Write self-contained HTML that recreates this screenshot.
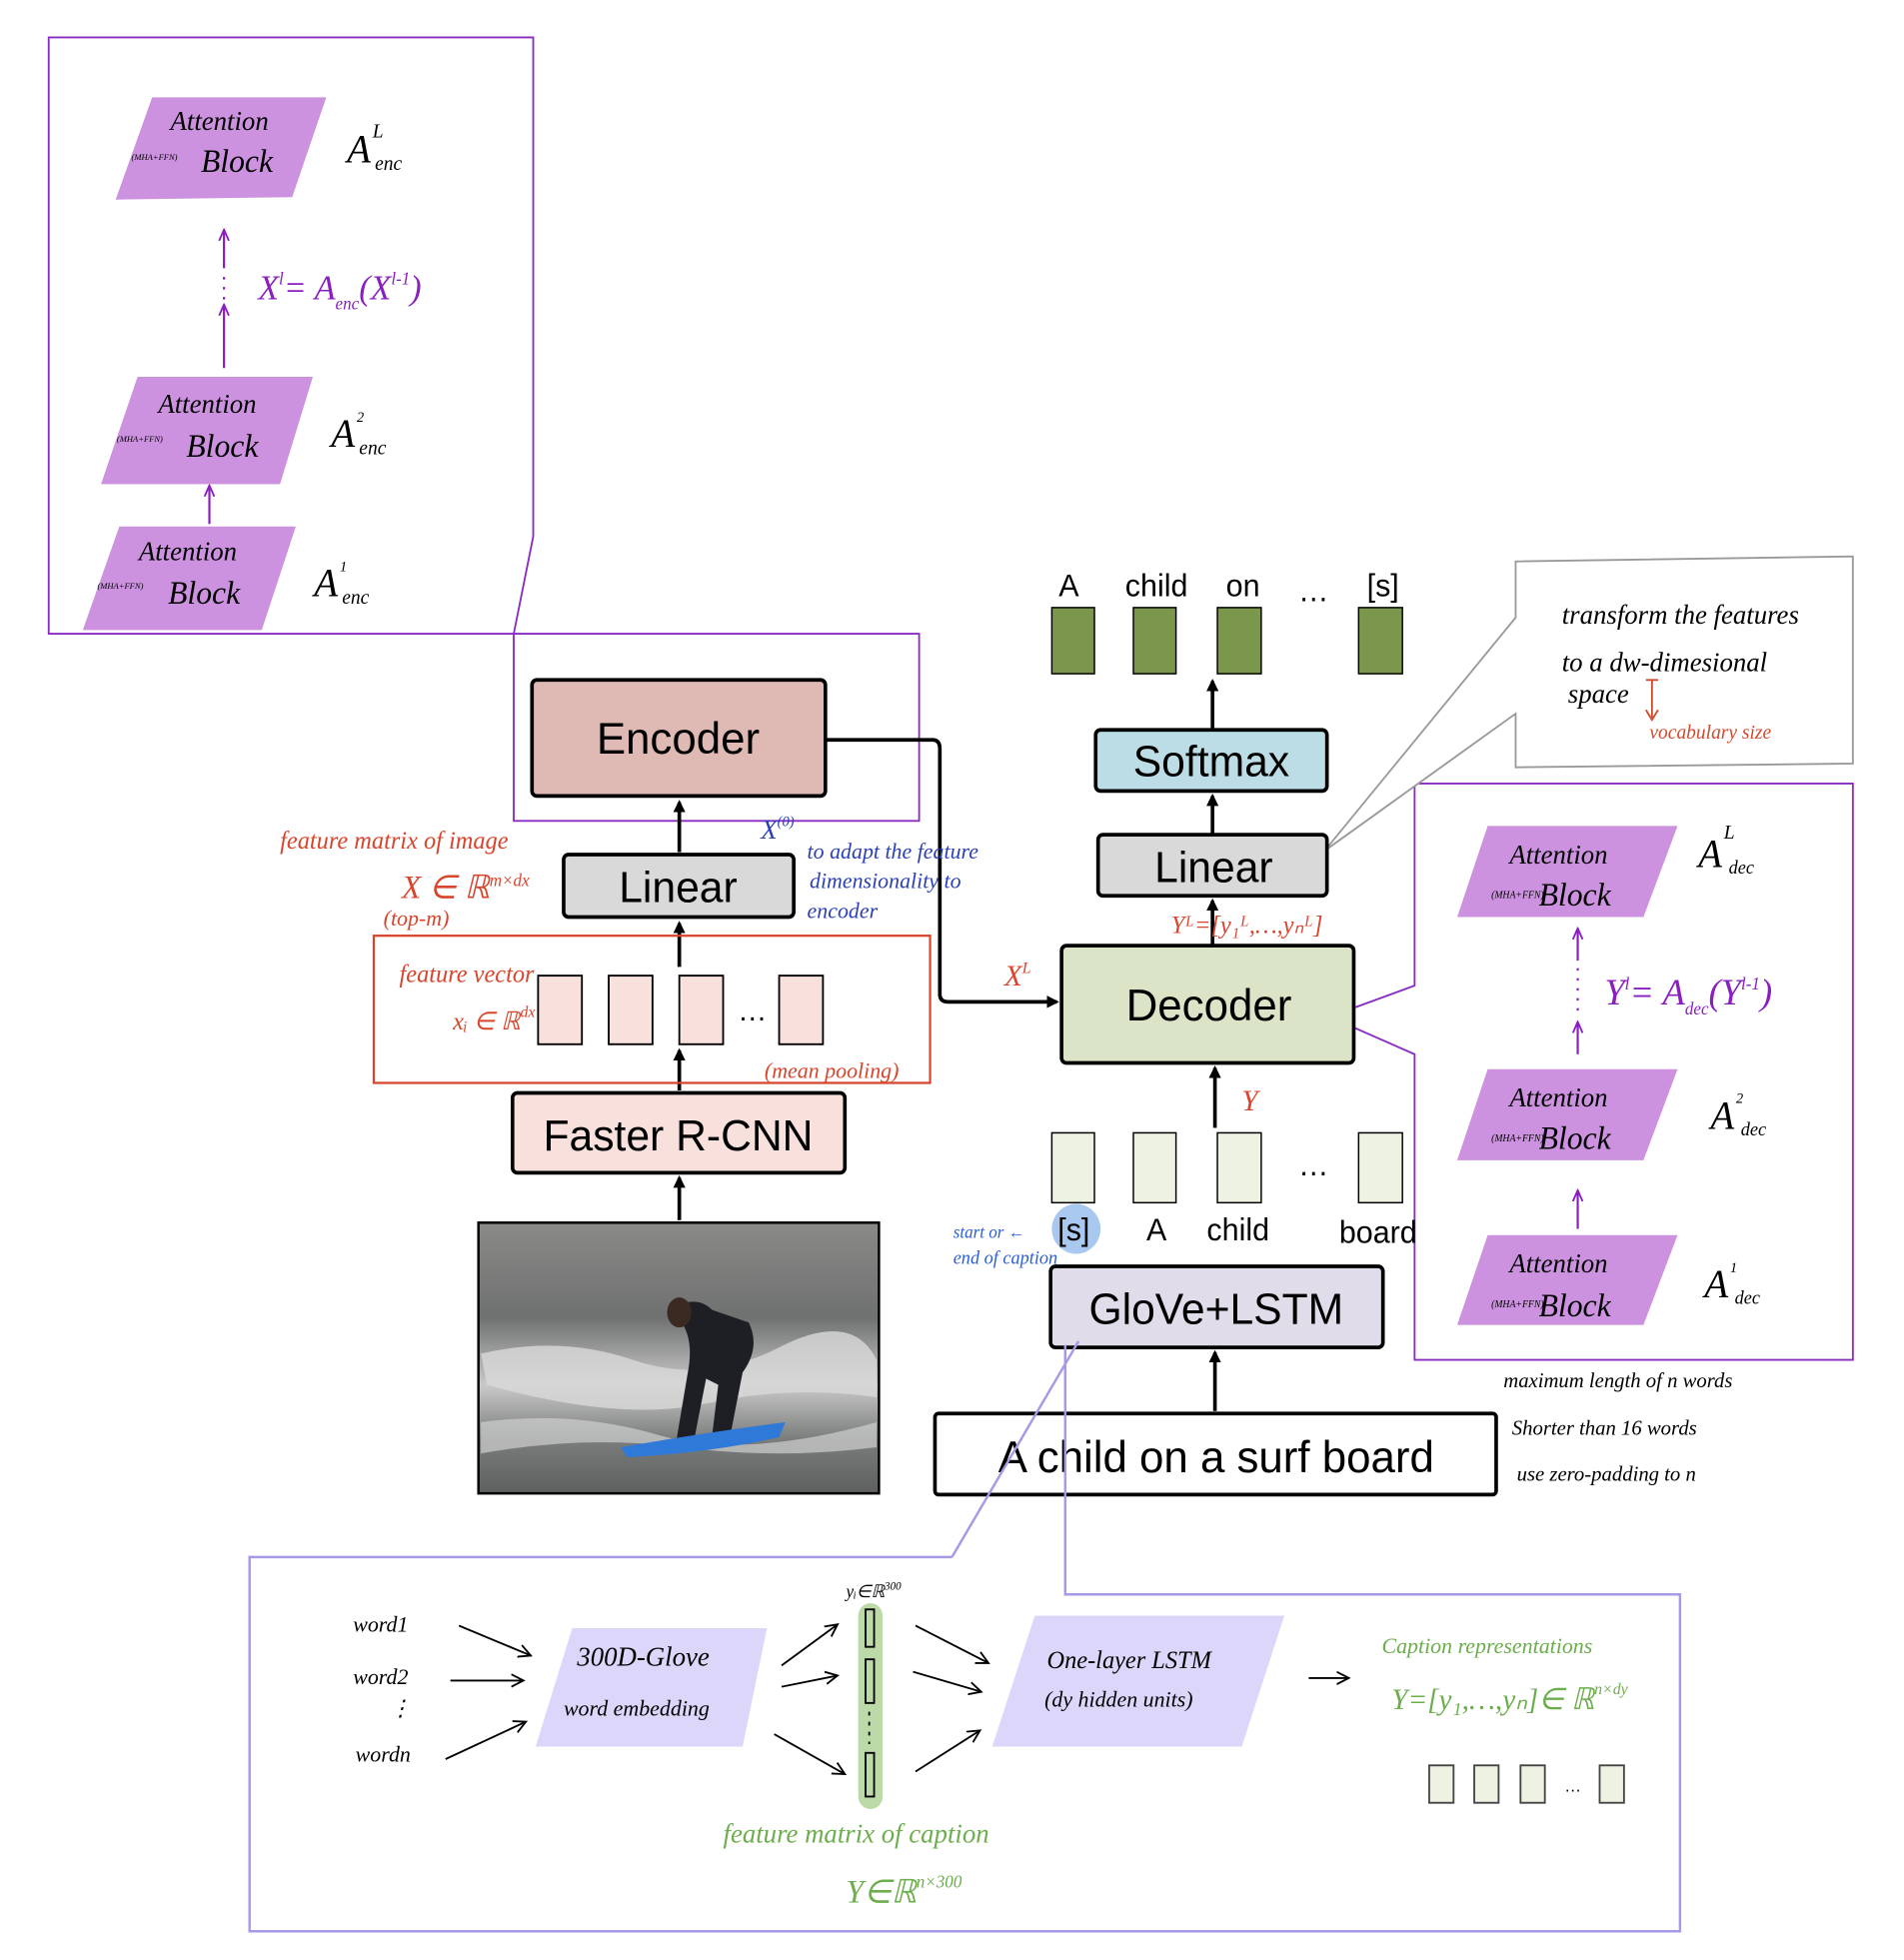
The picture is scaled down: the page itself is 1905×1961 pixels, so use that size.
<!DOCTYPE html>
<html><head><meta charset="utf-8"><style>
html,body{margin:0;padding:0;background:#fff}
svg{display:block}
text{font-family:"Liberation Sans",sans-serif}
.hw{font-family:"Liberation Serif",serif;font-style:italic}
</style></head><body>
<svg width="1905" height="1961" viewBox="0 0 1564 1571" preserveAspectRatio="none" xmlns="http://www.w3.org/2000/svg">
<defs>
<marker id="ah" markerWidth="10" markerHeight="10" refX="8" refY="5" orient="auto" markerUnits="userSpaceOnUse"><path d="M0,0 L10,5 L0,10 z" fill="#000"/></marker>
<marker id="ahp" markerWidth="10" markerHeight="10" refX="8" refY="5" orient="auto" markerUnits="userSpaceOnUse"><path d="M0,1 L9,5 L0,9" fill="none" stroke="#8a1fc0" stroke-width="1.5"/></marker>
<marker id="aht" markerWidth="12" markerHeight="12" refX="10" refY="6" orient="auto" markerUnits="userSpaceOnUse"><path d="M0,1 L10,6 L0,11" fill="none" stroke="#000" stroke-width="1.5"/></marker>
<linearGradient id="sea" x1="0" y1="0" x2="0" y2="1"><stop offset="0" stop-color="#8a8a88"/><stop offset="0.35" stop-color="#6f7170"/><stop offset="0.6" stop-color="#c8c9c8"/><stop offset="0.8" stop-color="#7b7d7c"/><stop offset="1" stop-color="#5e605f"/></linearGradient>
</defs>

<path d="M40,30 L438,30 L438,430 L422,508 L40,508 Z" fill="none" stroke="#8a2bc2" stroke-width="1.5"/>
<path d="M422,508 L755,508 L755,658 L422,658 Z" fill="none" stroke="#8a2bc2" stroke-width="1.5"/>

<g fill="#cc92e0">
<path d="M125,78 L268,78 L240,158 L95,160 Z"/>
<path d="M113,302 L257,302 L230,388 L83,388 Z"/>
<path d="M98,422 L243,422 L215,505 L68,505 Z"/>
<path d="M1222,662 L1378,662 L1350,735 L1197,735 Z"/>
<path d="M1222,857 L1378,857 L1350,930 L1197,930 Z"/>
<path d="M1222,990 L1378,990 L1350,1062 L1197,1062 Z"/>
</g>
<g class="hw" fill="#000">
<text x="140" y="104" font-size="22" class="hw">Attention</text>
<text x="108" y="128" font-size="7" class="hw">(MHA+FFN)</text>
<text x="165" y="138" font-size="26" class="hw">Block</text>
<text x="130" y="331" font-size="22" class="hw">Attention</text>
<text x="96" y="354" font-size="7" class="hw">(MHA+FFN)</text>
<text x="153" y="366" font-size="26" class="hw">Block</text>
<text x="114" y="449" font-size="22" class="hw">Attention</text>
<text x="80" y="472" font-size="7" class="hw">(MHA+FFN)</text>
<text x="138" y="484" font-size="26" class="hw">Block</text>
<text x="285" y="130" font-size="32" class="hw">A</text><text x="306" y="110" font-size="16" class="hw">L</text><text x="308" y="136" font-size="16" class="hw">enc</text>
<text x="272" y="358" font-size="32" class="hw">A</text><text x="293" y="338" font-size="12" class="hw">2</text><text x="295" y="364" font-size="16" class="hw">enc</text>
<text x="258" y="478" font-size="32" class="hw">A</text><text x="279" y="458" font-size="12" class="hw">1</text><text x="281" y="484" font-size="16" class="hw">enc</text>

<text x="1240" y="692" font-size="22" class="hw">Attention</text>
<text x="1225" y="720" font-size="8" class="hw">(MHA+FFN)</text>
<text x="1264" y="726" font-size="26" class="hw">Block</text>
<text x="1240" y="887" font-size="22" class="hw">Attention</text>
<text x="1225" y="915" font-size="8" class="hw">(MHA+FFN)</text>
<text x="1264" y="921" font-size="26" class="hw">Block</text>
<text x="1240" y="1020" font-size="22" class="hw">Attention</text>
<text x="1225" y="1048" font-size="8" class="hw">(MHA+FFN)</text>
<text x="1264" y="1055" font-size="26" class="hw">Block</text>
<text x="1395" y="695" font-size="32" class="hw">A</text><text x="1416" y="672" font-size="16" class="hw">L</text><text x="1420" y="700" font-size="15" class="hw">dec</text>
<text x="1405" y="905" font-size="32" class="hw">A</text><text x="1426" y="884" font-size="12" class="hw">2</text><text x="1430" y="910" font-size="15" class="hw">dec</text>
<text x="1400" y="1040" font-size="32" class="hw">A</text><text x="1421" y="1020" font-size="12" class="hw">1</text><text x="1425" y="1045" font-size="15" class="hw">dec</text>
</g>
<g stroke="#8a1fc0" stroke-width="1.8" fill="none">
<line x1="184" y1="295" x2="184" y2="245" marker-end="url(#ahp)"/>
<line x1="184" y1="240" x2="184" y2="222" stroke-dasharray="2,6"/>
<line x1="184" y1="215" x2="184" y2="185" marker-end="url(#ahp)"/>
<line x1="172" y1="420" x2="172" y2="390" marker-end="url(#ahp)"/>
<line x1="1296" y1="845" x2="1296" y2="820" marker-end="url(#ahp)"/>
<line x1="1296" y1="810" x2="1296" y2="775" stroke-dasharray="2,6"/>
<line x1="1296" y1="770" x2="1296" y2="745" marker-end="url(#ahp)"/>
<line x1="1296" y1="985" x2="1296" y2="955" marker-end="url(#ahp)"/>
</g>
<text x="212" y="240" font-size="28" fill="#8a1fc0" class="hw">X<tspan font-size="14" dy="-12">l</tspan><tspan dy="12">= A</tspan><tspan font-size="14" dy="8">enc</tspan><tspan dy="-8">(X</tspan><tspan font-size="14" dy="-12">l-1</tspan><tspan dy="12">)</tspan></text>
<text x="1318" y="805" font-size="30" fill="#8a1fc0" class="hw">Y<tspan font-size="14" dy="-12">l</tspan><tspan dy="12">= A</tspan><tspan font-size="14" dy="8">dec</tspan><tspan dy="-8">(Y</tspan><tspan font-size="14" dy="-12">l-1</tspan><tspan dy="12">)</tspan></text>

<path d="M1162,628 L1522,628 L1522,1090 L1162,1090 L1162,845 L1092,815 L1162,790 Z" fill="none" stroke="#8a2bc2" stroke-width="1.5"/>

<path d="M1245,450 L1522,446 L1522,612 L1245,615 L1245,572 L1088,682 L1245,495 Z" fill="#fff" stroke="#999" stroke-width="1.5"/>
<text x="1283" y="500" font-size="22" class="hw">transform the features</text>
<text x="1283" y="538" font-size="22" class="hw">to a dw-dimesional</text>
<text x="1288" y="563" font-size="22" class="hw">space</text>
<path d="M1352,545 L1362,545 M1357,545 L1357,575 M1352,569 L1357,577 L1362,569" stroke="#d04a30" stroke-width="1.5" fill="none"/>
<text x="1355" y="592" font-size="16" fill="#d04a30" class="hw">vocabulary size</text>

<g stroke="#000" stroke-width="3" fill="none">
<line x1="558" y1="978" x2="558" y2="944" marker-end="url(#ah)"/>
<line x1="558" y1="874" x2="558" y2="842" marker-end="url(#ah)"/>
<line x1="558" y1="775" x2="558" y2="740" marker-end="url(#ah)"/>
<line x1="558" y1="683" x2="558" y2="643" marker-end="url(#ah)"/>
<path d="M678,593 L766,593 Q772,593 772,600 L772,797 Q772,803 779,803 L868,803" marker-end="url(#ah)"/>
<line x1="996" y1="584" x2="996" y2="546" marker-end="url(#ah)"/>
<line x1="996" y1="668" x2="996" y2="638" marker-end="url(#ah)"/>
<line x1="996" y1="757" x2="996" y2="722" marker-end="url(#ah)"/>
<line x1="998" y1="904" x2="998" y2="856" marker-end="url(#ah)"/>
<line x1="998" y1="1131" x2="998" y2="1084" marker-end="url(#ah)"/>
</g>

<rect x="437" y="545" width="241" height="93" rx="4" fill="#dfb9b4" stroke="#000" stroke-width="3"/>
<text x="557" y="604" font-size="36" text-anchor="middle">Encoder</text>
<rect x="463" y="685" width="189" height="50" rx="4" fill="#d9d9d9" stroke="#000" stroke-width="3"/>
<text x="557" y="723" font-size="35" text-anchor="middle">Linear</text>
<rect x="307" y="750" width="457" height="118" fill="none" stroke="#d9442c" stroke-width="1.8"/>
<g fill="#f8e0dd" stroke="#000" stroke-width="1.5">
<rect x="442" y="782" width="36" height="55"/><rect x="500" y="782" width="36" height="55"/><rect x="558" y="782" width="36" height="55"/><rect x="640" y="782" width="36" height="55"/>
</g>
<text x="618" y="818" font-size="24" text-anchor="middle">…</text>
<rect x="421" y="876" width="273" height="64" rx="4" fill="#f8e0dd" stroke="#000" stroke-width="3"/>
<text x="557" y="922" font-size="35" text-anchor="middle">Faster R-CNN</text>

<rect x="393" y="980" width="329" height="217" fill="url(#sea)" stroke="#000" stroke-width="2"/>
<path d="M395,1085 Q460,1070 520,1090 T640,1080 T720,1090 L720,1120 Q650,1110 580,1125 T400,1110 Z" fill="#d8d9d8" opacity="0.8"/>
<path d="M395,1140 Q470,1130 540,1150 T720,1140 L720,1160 Q640,1170 560,1160 T395,1165 Z" fill="#cfd0cf" opacity="0.7"/>
<path d="M560,1045 Q575,1040 585,1050 L615,1060 Q625,1080 610,1100 L600,1150 L585,1150 L590,1110 L580,1105 L570,1155 L555,1158 L565,1100 Q570,1075 560,1060 Z" fill="#1e1f24"/>
<ellipse cx="558" cy="1052" rx="10" ry="12" fill="#3a2a22"/>
<path d="M510,1160 Q580,1148 645,1140 L640,1152 Q580,1165 515,1168 Z" fill="#2f7ad8"/>

<g font-size="25">
<text x="878" y="478" text-anchor="middle">A</text>
<text x="950" y="478" text-anchor="middle">child</text>
<text x="1021" y="478" text-anchor="middle">on</text>
<text x="1079" y="482" text-anchor="middle">…</text>
<text x="1136" y="478" text-anchor="middle">[s]</text>
</g>
<g fill="#7a974c" stroke="#000" stroke-width="1.2">
<rect x="864" y="487" width="35" height="53"/><rect x="931" y="487" width="35" height="53"/><rect x="1000" y="487" width="36" height="53"/><rect x="1116" y="487" width="36" height="53"/>
</g>
<rect x="900" y="585" width="190" height="49" rx="4" fill="#bcdde6" stroke="#000" stroke-width="3"/>
<text x="995" y="622" font-size="35" text-anchor="middle">Softmax</text>
<rect x="902" y="669" width="188" height="49" rx="4" fill="#d9d9d9" stroke="#000" stroke-width="3"/>
<text x="997" y="707" font-size="35" text-anchor="middle">Linear</text>
<rect x="872" y="758" width="240" height="94" rx="4" fill="#dbe4c6" stroke="#000" stroke-width="3"/>
<text x="993" y="818" font-size="36" text-anchor="middle">Decoder</text>
<g fill="#eef2e2" stroke="#000" stroke-width="1.2">
<rect x="864" y="908" width="35" height="56"/><rect x="931" y="908" width="35" height="56"/><rect x="1000" y="908" width="36" height="56"/><rect x="1116" y="908" width="36" height="56"/>
</g>
<text x="1079" y="942" font-size="25" text-anchor="middle">…</text>
<circle cx="884" cy="985" r="20" fill="#a9c8f0"/>
<g font-size="25">
<text x="882" y="994" text-anchor="middle">[s]</text>
<text x="950" y="994" text-anchor="middle">A</text>
<text x="1017" y="994" text-anchor="middle">child</text>
<text x="1132" y="996" text-anchor="middle">board</text>
</g>
<rect x="863" y="1015" width="273" height="65" rx="4" fill="#e0dcea" stroke="#000" stroke-width="3"/>
<text x="999" y="1061" font-size="35" text-anchor="middle">GloVe+LSTM</text>
<rect x="768" y="1133" width="461" height="65" rx="3" fill="#fff" stroke="#000" stroke-width="3"/>
<text x="999" y="1180" font-size="36" text-anchor="middle">A child on a surf board</text>

<g fill="#d9442c" class="hw">
<text x="230" y="680" font-size="20" class="hw">feature matrix of image</text>
<text x="330" y="720" font-size="26" class="hw">X ∈ ℝ<tspan font-size="14" dy="-10">m×dx</tspan></text>
<text x="315" y="742" font-size="18" class="hw">(top-m)</text>
<text x="328" y="787" font-size="20" class="hw">feature vector</text>
<text x="372" y="825" font-size="20" class="hw">xᵢ ∈ ℝ<tspan font-size="13" dy="-10">dx</tspan></text>
<text x="628" y="864" font-size="18" class="hw">(mean pooling)</text>
<text x="825" y="790" font-size="24" class="hw">X<tspan font-size="13" dy="-10">L</tspan></text>
<text x="962" y="748" font-size="20" class="hw">Yᴸ=[y₁ᴸ,…,yₙᴸ]</text>
<text x="1020" y="890" font-size="24" class="hw">Y</text>
</g>
<g fill="#2a3fb8" class="hw">
<text x="625" y="672" font-size="22" class="hw">X<tspan font-size="12" dy="-10">(0)</tspan></text>
<text x="663" y="688" font-size="18" class="hw">to adapt the feature</text>
<text x="665" y="712" font-size="18" class="hw">dimensionality to</text>
<text x="663" y="736" font-size="18" class="hw">encoder</text>
</g>
<g fill="#2a5fd8" class="hw">
<text x="783" y="992" font-size="14" class="hw">start or ←</text>
<text x="783" y="1013" font-size="15" class="hw">end of caption</text>
</g>
<g font-size="17" class="hw" fill="#000">
<text x="1235" y="1112" class="hw">maximum length of n words</text>
<text x="1242" y="1150" class="hw">Shorter than 16 words</text>
<text x="1246" y="1187" class="hw">use zero-padding to n</text>
</g>

<g fill="none" stroke="#a898e8" stroke-width="2">
<path d="M782,1248 L205,1248 L205,1548 L1380,1548 L1380,1278 L875,1278 L875,1078"/>
<line x1="782" y1="1248" x2="886" y2="1075"/>
</g>
<g fill="#dcd6fa">
<path d="M470,1305 L630,1305 L610,1400 L440,1400 Z"/>
<path d="M850,1295 L1055,1295 L1020,1400 L815,1400 Z"/>
</g>
<rect x="705" y="1285" width="20" height="165" rx="10" fill="#bcd9a8"/>
<g fill="none" stroke="#000" stroke-width="1.5">
<rect x="711" y="1290" width="7" height="30"/><rect x="711" y="1330" width="7" height="35"/><rect x="711" y="1405" width="7" height="35"/>
<line x1="714" y1="1372" x2="714" y2="1398" stroke-dasharray="3,5"/>
</g>
<g fill="#000" class="hw">
<text x="290" y="1308" font-size="18" class="hw">word1</text>
<text x="290" y="1350" font-size="18" class="hw">word2</text>
<text x="320" y="1375" font-size="18" class="hw">⋮</text>
<text x="292" y="1412" font-size="18" class="hw">wordn</text>
<text x="474" y="1335" font-size="22" class="hw">300D-Glove</text>
<text x="463" y="1375" font-size="18" class="hw">word embedding</text>
<text x="860" y="1337" font-size="20" class="hw">One-layer LSTM</text>
<text x="858" y="1368" font-size="18" class="hw">(dy hidden units)</text>
<text x="695" y="1280" font-size="14" class="hw">yᵢ∈ℝ<tspan font-size="9" dy="-6">300</tspan></text>
</g>
<g stroke="#000" stroke-width="1.5" fill="none">
<line x1="377" y1="1303" x2="436" y2="1327" marker-end="url(#aht)"/>
<line x1="370" y1="1347" x2="430" y2="1347" marker-end="url(#aht)"/>
<line x1="366" y1="1410" x2="432" y2="1380" marker-end="url(#aht)"/>
<line x1="642" y1="1335" x2="688" y2="1302" marker-end="url(#aht)"/>
<line x1="642" y1="1352" x2="688" y2="1343" marker-end="url(#aht)"/>
<line x1="636" y1="1390" x2="694" y2="1422" marker-end="url(#aht)"/>
<line x1="752" y1="1303" x2="812" y2="1333" marker-end="url(#aht)"/>
<line x1="750" y1="1340" x2="806" y2="1356" marker-end="url(#aht)"/>
<line x1="752" y1="1420" x2="805" y2="1387" marker-end="url(#aht)"/>
<line x1="1075" y1="1345" x2="1108" y2="1345" marker-end="url(#aht)"/>
</g>
<g fill="#6cad4c" class="hw">
<text x="1135" y="1325" font-size="18" class="hw">Caption representations</text>
<text x="1143" y="1370" font-size="24" class="hw">Y=[y₁,…,yₙ]∈ ℝ<tspan font-size="13" dy="-12">n×dy</tspan></text>
<text x="594" y="1477" font-size="22" class="hw">feature matrix of caption</text>
<text x="695" y="1525" font-size="26" class="hw">Y∈ℝ<tspan font-size="14" dy="-12">n×300</tspan></text>
</g>
<g fill="#eef2e2" stroke="#444" stroke-width="1.5">
<rect x="1174" y="1415" width="20" height="30"/><rect x="1211" y="1415" width="20" height="30"/><rect x="1249" y="1415" width="20" height="30"/><rect x="1314" y="1415" width="20" height="30"/>
</g>
<text x="1292" y="1436" font-size="14" text-anchor="middle">…</text>
</svg>
</body></html>
